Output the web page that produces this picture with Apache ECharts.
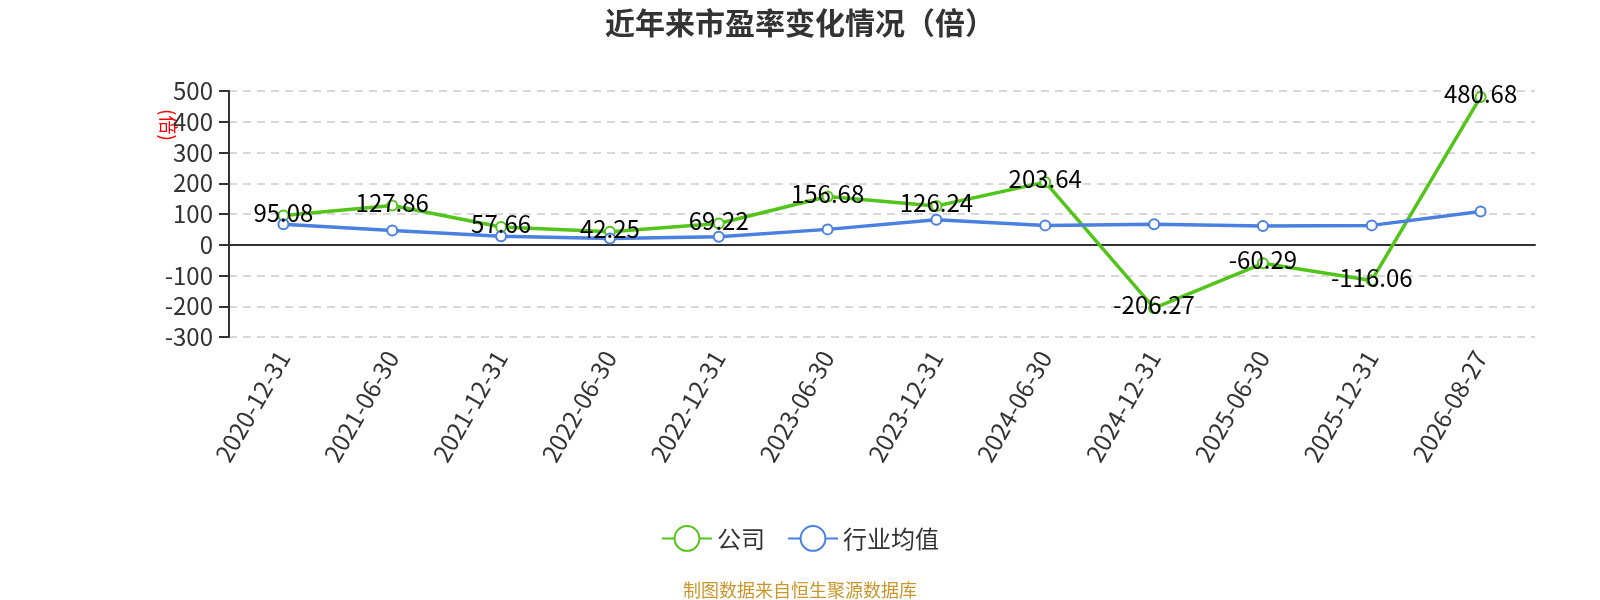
<!DOCTYPE html>
<html lang="zh">

<head>
    <meta charset="UTF-8">
    <title>近年来市盈率变化情况</title>
    <style>
        html,
        body,
        #chart {
            margin: 0;
            padding: 0;
            overflow: hidden;
            width: 100%;
            height: 100%;
            background: #fff;
        }
    </style>
</head>

<body>
    <div id="chart"></div>
    <script src="https://cdn.jsdelivr.net/npm/echarts@6/dist/echarts.min.js"></script>
    <script>
        var dates = ["2020-12-31", "2021-06-30", "2021-12-31", "2022-06-30", "2022-12-31", "2023-06-30",
            "2023-12-31", "2024-06-30", "2024-12-31", "2025-06-30", "2025-12-31", "2026-08-27"];
        var companyPE = [95.08, 127.86, 57.66, 42.25, 69.22, 156.68, 126.24, 203.64, -206.27, -60.29, -116.06, 480.68];
        var industryPE = [67, 46, 28, 20, 26, 50, 81, 63, 67, 61, 63, 108];

        var font = "'Noto Sans CJK SC', 'Noto Sans', sans-serif";
        var chart = echarts.init(document.getElementById('chart'));

        chart.setOption({
            animation: false,
            textStyle: { fontFamily: font },
            title: [{
                text: '近年来市盈率变化情况（倍）',
                left: 'center',
                top: 3,
                textStyle: { fontSize: 30, fontWeight: 'bold', color: '#333', fontFamily: font }
            }, {
                text: '制图数据来自恒生聚源数据库',
                left: 'center',
                top: 576,
                textStyle: { fontSize: 18, fontWeight: 'normal', color: '#c9962c', fontFamily: font }
            }],
            legend: {
                top: 520,
                left: 'center',
                itemWidth: 50,
                itemHeight: 31,
                itemGap: 22,
                textStyle: { fontSize: 24, color: '#333' },
                data: ['公司', '行业均值']
            },
            grid: {
                left: 229,
                right: 65,
                top: 91,
                bottom: 263
            },
            graphic: [{
                type: 'text',
                x: 168,
                y: 125,
                rotation: -Math.PI / 2,
                style: {
                    text: '(倍)',
                    fill: '#ff0000',
                    fontSize: 19,
                    fontFamily: font,
                    textAlign: 'center',
                    textVerticalAlign: 'middle'
                }
            }],
            xAxis: {
                type: 'category',
                data: dates,
                axisLine: { onZero: true, lineStyle: { color: '#333', width: 2 } },
                axisTick: { length: 9, lineStyle: { color: '#333', width: 2 } },
                axisLabel: {
                    rotate: 60,
                    margin: 16,
                    fontSize: 24,
                    color: '#333',
                    interval: 0
                }
            },
            yAxis: {
                type: 'value',
                min: -300,
                max: 500,
                interval: 100,
                axisLine: { show: true, lineStyle: { color: '#333', width: 2 } },
                axisTick: { show: true, length: 10, lineStyle: { color: '#333', width: 2 } },
                axisLabel: { fontSize: 24, color: '#333', margin: 16 },
                splitLine: { lineStyle: { type: [8, 6], color: '#cccccc', width: 1.5 } }
            },
            series: [{
                name: '公司',
                type: 'line',
                data: companyPE,
                symbol: 'emptyCircle',
                symbolSize: 10,
                color: '#52c41a',
                lineStyle: { width: 3.5 },
                itemStyle: { borderWidth: 2 },
                label: {
                    show: true,
                    position: 'top',
                    distance: -15,
                    fontSize: 24,
                    color: '#000'
                }
            }, {
                name: '行业均值',
                type: 'line',
                data: industryPE,
                symbol: 'emptyCircle',
                symbolSize: 10,
                color: '#4a80e0',
                lineStyle: { width: 3.5 },
                itemStyle: { borderWidth: 2 }
            }]
        });
    </script>
</body>

</html>
